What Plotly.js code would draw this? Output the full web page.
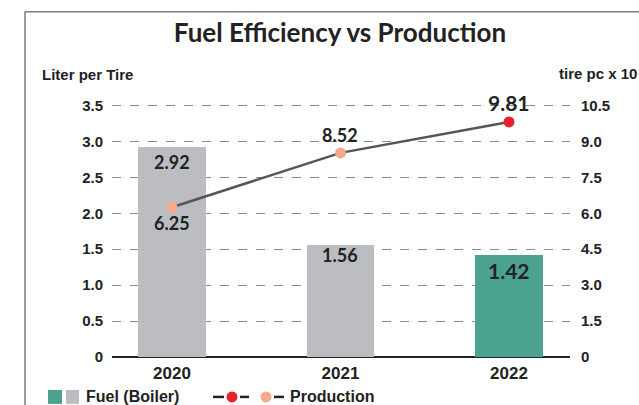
<!DOCTYPE html>
<html>
<head>
<meta charset="utf-8">
<script src="https://cdn.plot.ly/plotly-3.0.1.min.js"></script>
<style>
html,body{margin:0;padding:0;background:#fff;}
#chart{width:639px;height:405px;}
</style>
</head>
<body>
<div id="chart"></div>
<script>
const years = ['2020', '2021', '2022'];
const fuel = [2.92, 1.56, 1.42];
const production = [6.25, 8.52, 9.81];
const leftTicks = [0, 0.5, 1.0, 1.5, 2.0, 2.5, 3.0, 3.5];
const leftTickText = ['0', '0.5', '1.0', '1.5', '2.0', '2.5', '3.0', '3.5'];
const rightTicks = [0, 1.5, 3.0, 4.5, 6.0, 7.5, 9.0, 10.5];
const rightTickText = ['0', '1.5', '3.0', '4.5', '6.0', '7.5', '9.0', '10.5'];

const barColors = ['#BCBDC1', '#BCBDC1', '#4BA38F'];
const markerColors = ['#F6A98A', '#F6A98A', '#E8202A'];

const L = 112, R = 570, T = 103.5, B = 357;
const px = X => (X - L) / (R - L);
const py = Y => (B - Y) / (B - T);

const labelFont = 'Lato, "Open Sans", sans-serif';
const axFont = '"Liberation Sans", Arial, sans-serif';
const barLabelShift = [-2, 3, -1];

const bars = {
  type: 'bar', x: years, y: fuel, marker: {color: barColors, line: {width: 0}},
  width: 0.40, yaxis: 'y', hoverinfo: 'skip', showlegend: false
};
const line = {
  type: 'scatter', mode: 'lines+markers', x: years, y: production, yaxis: 'y2',
  line: {color: '#555555', width: 2.5},
  marker: {color: markerColors, size: 11},
  cliponaxis: false, showlegend: false, hoverinfo: 'skip'
};

const annotations = [];
fuel.forEach((v, i) => {
  annotations.push({
    x: i, y: v, xref: 'x', yref: 'y', text: '<b>' + v.toFixed(2) + '</b>',
    showarrow: false, yanchor: 'top', yshift: barLabelShift[i],
    font: {family: labelFont, size: i === 2 ? 21 : 18, color: '#222'}
  });
});
production.forEach((v, i) => {
  const below = i === 0;
  annotations.push({
    x: i, y: v, xref: 'x', yref: 'y2', text: '<b>' + v.toFixed(2) + '</b>',
    showarrow: false, yanchor: below ? 'top' : 'bottom', yshift: below ? -3 : 5,
    font: {family: labelFont, size: i === 2 ? 21 : 18, color: '#222'}
  });
});
annotations.push({xref: 'paper', yref: 'paper', x: px(40), y: py(74), xanchor: 'left', yanchor: 'middle',
  text: '<b>Liter per Tire</b>', showarrow: false, font: {family: axFont, size: 15, color: '#222'}});
annotations.push({xref: 'paper', yref: 'paper', x: px(557), y: py(73), xanchor: 'left', yanchor: 'middle',
  text: '<b>tire pc x 10</b>', showarrow: false, font: {family: axFont, size: 15, color: '#222'}});
annotations.push({xref: 'paper', yref: 'paper', x: px(84), y: py(397), xanchor: 'left', yanchor: 'middle',
  text: '<b>Fuel (Boiler)</b>', showarrow: false, font: {family: axFont, size: 16, color: '#222'}});
annotations.push({xref: 'paper', yref: 'paper', x: px(288), y: py(397), xanchor: 'left', yanchor: 'middle',
  text: '<b>Production</b>', showarrow: false, font: {family: axFont, size: 16, color: '#222'}});

const shapes = [
  {type: 'line', xref: 'paper', yref: 'paper', x0: px(25), x1: px(25), y0: py(420), y1: py(11), line: {color: '#7a7a7a', width: 1.5}},
  {type: 'line', xref: 'paper', yref: 'paper', x0: px(25), x1: px(660), y0: py(11), y1: py(11), line: {color: '#7a7a7a', width: 1.5}},
  {type: 'rect', xref: 'paper', yref: 'paper', x0: px(48), x1: px(62), y0: py(404), y1: py(390), fillcolor: '#4BA38F', line: {width: 0}},
  {type: 'rect', xref: 'paper', yref: 'paper', x0: px(66), x1: px(79), y0: py(404), y1: py(390), fillcolor: '#BCBDC1', line: {width: 0}},
  {type: 'line', xref: 'paper', yref: 'paper', x0: px(213), x1: px(224), y0: py(397), y1: py(397), line: {color: '#222', width: 2.5}},
  {type: 'line', xref: 'paper', yref: 'paper', x0: px(240), x1: px(257), y0: py(397), y1: py(397), line: {color: '#222', width: 2.5, dash: 'dash'}},
  {type: 'line', xref: 'paper', yref: 'paper', x0: px(274), x1: px(284), y0: py(397), y1: py(397), line: {color: '#222', width: 2.5}},
  {type: 'circle', xref: 'paper', yref: 'paper', x0: px(226.5), x1: px(237.5), y0: py(402.5), y1: py(391.5), fillcolor: '#E8202A', line: {width: 0}},
  {type: 'circle', xref: 'paper', yref: 'paper', x0: px(260.5), x1: px(271.5), y0: py(402.5), y1: py(391.5), fillcolor: '#F6A98A', line: {width: 0}}
];

const layout = {
  width: 639, height: 405,
  margin: {l: L, r: 639 - R, t: T, b: 405 - B, pad: 0},
  paper_bgcolor: '#fff', plot_bgcolor: '#fff',
  title: {text: '<b>Fuel Efficiency vs Production</b>', x: 0.532, xanchor: 'center', y: 0.918, yanchor: 'middle',
    font: {family: labelFont, size: 26, color: '#222'}},
  xaxis: {
    type: 'category', range: [-0.356, 2.362], showgrid: false, showline: false, ticks: '',
    tickfont: {family: axFont, size: 17, color: '#222', weight: 'bold'}, ticklabelstandoff: 4, fixedrange: true
  },
  yaxis: {
    range: [0, 3.52], tickvals: leftTicks, ticktext: leftTickText, showgrid: true,
    gridcolor: '#8a8a8a', griddash: 'dash', gridwidth: 1,
    zeroline: true, zerolinecolor: '#222', zerolinewidth: 2.5, showline: false, ticks: '',
    tickfont: {family: axFont, size: 15, color: '#222', weight: 'bold'}, ticklabelstandoff: 8, fixedrange: true
  },
  yaxis2: {
    overlaying: 'y', side: 'right', range: [0, 10.56], tickvals: rightTicks, ticktext: rightTickText,
    showgrid: false, zeroline: false, showline: false, ticks: '',
    tickfont: {family: axFont, size: 15, color: '#222', weight: 'bold'}, ticklabelstandoff: 10, fixedrange: true
  },
  bargap: 0,
  annotations: annotations,
  shapes: shapes,
  showlegend: false
};

Plotly.newPlot('chart', [bars, line], layout, {displayModeBar: false, staticPlot: true});
</script>
</body>
</html>
